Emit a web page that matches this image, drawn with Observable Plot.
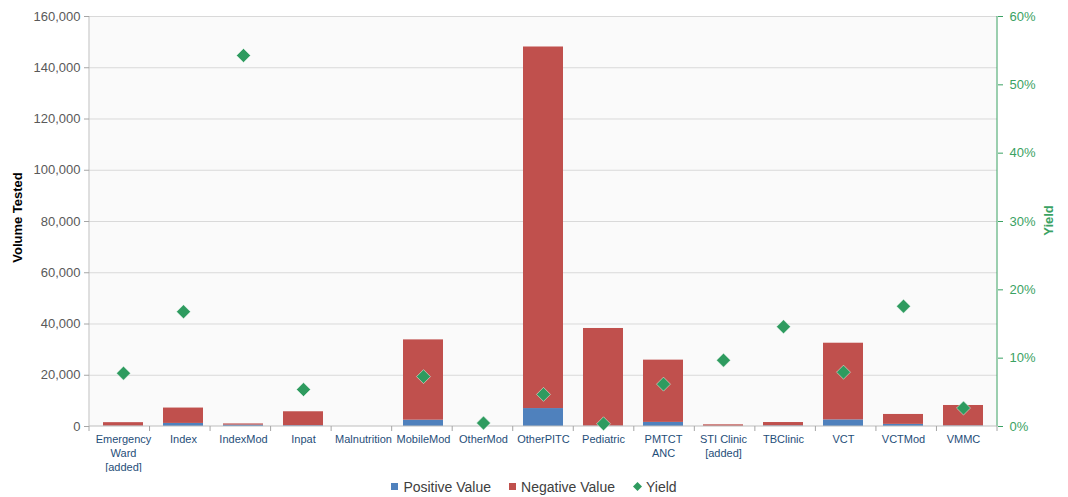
<!DOCTYPE html>
<html><head><meta charset="utf-8">
<script src="https://cdn.jsdelivr.net/npm/d3@7"></script>
<script src="https://cdn.jsdelivr.net/npm/@observablehq/plot@0.6"></script>
<style>
body{margin:0;background:#fff;font-family:"Liberation Sans",Arial,sans-serif;}
#legend{display:flex;justify-content:center;align-items:center;height:25px;padding-top:2px;font-size:14px;color:#404040;}
#legend .item{display:flex;align-items:center;margin:0 9px;}
#legend .sw{display:inline-block;width:7px;height:7px;margin-right:5px;}
</style></head>
<body><div id="chart"></div><div id="legend"></div>
<script>
const categories = ["Emergency\nWard\n[added]","Index","IndexMod","Inpat","Malnutrition","MobileMod","OtherMod","OtherPITC","Pediatric","PMTCT\nANC","STI Clinic\n[added]","TBClinic","VCT","VCTMod","VMMC"];
const positiveValues = [120,1200,540,310,0,2470,0,7000,150,1600,60,230,2580,830,220];
const negativeValues = [1380,6000,460,5440,0,31330,0,141100,38100,24300,590,1320,29920,3870,7980];
const yieldPct = [7.8,16.8,54.3,5.4,null,7.3,0.5,4.7,0.4,6.2,9.7,14.6,7.95,17.6,2.7];
const volumeTicks = [0,20000,40000,60000,80000,100000,120000,140000,160000];
const yieldTicks = [0,10,20,30,40,50,60];
const seriesNames = ["Positive Value","Negative Value"];
const seriesColors = ["#4f81bd","#c0504d"];
const yieldColor = "#2e9b5f";
const yieldAxisColor = "#3aa263";

const k = 160000 / 60;
const rows = [];
categories.forEach((c,i)=>{
  rows.push({cat:c, series:seriesNames[0], value:positiveValues[i]});
  rows.push({cat:c, series:seriesNames[1], value:negativeValues[i]});
});
const yieldRows = categories.map((c,i)=>({cat:c, yield:yieldPct[i]})).filter(d=>d.yield!=null);

function frameLines(index, scales, values, dims) {
  const {width, height, marginLeft, marginRight, marginTop, marginBottom} = dims;
  const g = d3.create("svg:g");
  const x0 = marginLeft, x1 = width - marginRight, yb = height - marginBottom;
  g.append("line").attr("x1",x0).attr("x2",x0).attr("y1",marginTop).attr("y2",yb).attr("stroke","#bfbfbf");
  g.append("line").attr("x1",x1).attr("x2",x1).attr("y1",marginTop).attr("y2",yb).attr("stroke",yieldAxisColor);
  g.append("line").attr("x1",x0).attr("x2",x1).attr("y1",yb).attr("y2",yb).attr("stroke","#bfbfbf");
  const step = (x1 - x0) / categories.length;
  for (let i = 0; i <= categories.length; i++) {
    const x = x0 + i*step;
    g.append("line").attr("x1",x).attr("x2",x).attr("y1",yb).attr("y2",yb+5).attr("stroke","#a6a6a6");
  }
  return g.node();
}

const chart = Plot.plot({
  width: 1068, height: 472,
  marginTop: 16, marginLeft: 89, marginRight: 71, marginBottom: 46,
  style: {fontFamily: "Liberation Sans, Arial, sans-serif", fontSize: "13px", background: "#fff"},
  x: {type: "band", domain: categories, paddingInner: 0.34, paddingOuter: 0.17, label: null},
  y: {domain: [0, 160000], label: null},
  color: {domain: seriesNames, range: seriesColors},
  marks: [
    Plot.frame({fill: "#fafafa", stroke: "none"}),
    Plot.gridY(volumeTicks.slice(1), {stroke: "#d9d9d9", strokeOpacity: 1}),
    Plot.barY(rows, {x: "cat", y: "value", fill: "series", order: seriesNames}),
    frameLines,
    Plot.dot(yieldRows, {x: "cat", y: d => d.yield * k, symbol: "diamond2", r: 6.3, fill: yieldColor, stroke: "#ffffff", strokeOpacity: 0.6, strokeWidth: 0.8}),
    Plot.axisY({ticks: volumeTicks, tickFormat: d3.format(","), tickSize: 5, tickPadding: 4, fill: "#595959", stroke: "#a6a6a6", label: null, fontSize: 13}),
    Plot.axisY({anchor: "right", ticks: yieldTicks.map(v => v * k), tickFormat: v => Math.round(v / k) + "%", tickSize: 5, tickPadding: 7, fill: yieldAxisColor, stroke: yieldAxisColor, label: null, fontSize: 13}),
    Plot.axisX({tickSize: 0, tickPadding: 7, fill: "#1f4e79", fontSize: 11, lineHeight: 1.27, label: null}),
    Plot.text(["Volume Tested"], {frameAnchor: "left", textAnchor: "middle", dx: -72, dy: -4, rotate: -90, fontWeight: "bold", fontSize: 13, fill: "#000"}),
    Plot.text(["Yield"], {frameAnchor: "right", textAnchor: "middle", dx: 51, dy: -1, rotate: -90, fontWeight: "bold", fontSize: 13, fill: yieldAxisColor})
  ]
});
document.getElementById("chart").appendChild(chart);

const legend = document.getElementById("legend");
seriesNames.forEach((n,i)=>{
  const it = document.createElement("div"); it.className = "item";
  it.innerHTML = `<span class="sw" style="background:${seriesColors[i]}"></span>${n}`;
  legend.appendChild(it);
});
const yi = document.createElement("div"); yi.className = "item";
yi.innerHTML = `<svg width="9" height="9" style="margin-right:4px"><path d="M4.5 0L9 4.5L4.5 9L0 4.5Z" fill="${yieldColor}"/></svg>Yield`;
legend.appendChild(yi);
</script>
</body></html>
